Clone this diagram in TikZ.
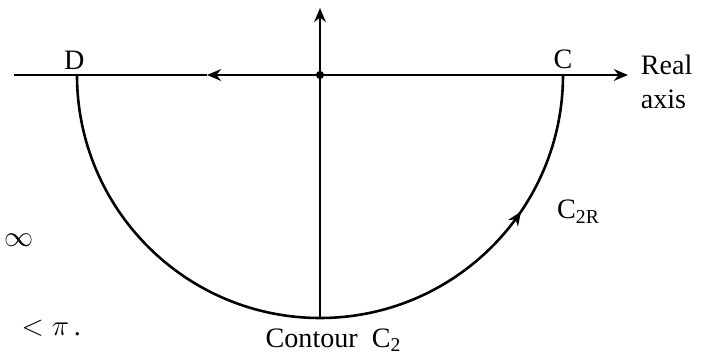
\documentclass[tikz,border=0pt]{standalone}
\usepackage{amsmath,amssymb}
\usepackage{fontspec}
\setmainfont{Liberation Serif}
\usepackage{tikz}
\usetikzlibrary{arrows.meta,positioning,decorations.markings}

\begin{document}
\begin{tikzpicture}[scale=1.0,
  axisline/.style={line width=2.4pt},
  curveline/.style={line width=2.2pt},
  tip/.style={-{Stealth[length=12pt,width=10pt]}},
  lbl/.style={font=\fontsize{24}{29}\selectfont},
  midtip/.style={decoration={markings,
      mark=at position #1 with {\arrow{Stealth[length=12pt,width=10pt]}}},
    postaction={decorate}}]
  \useasboundingbox (-9.6,-8.43) rectangle (11.64,2.25);
  % Axes, origin at the dot
  \coordinate (O) at (0,0);
  \coordinate (xL) at (-9.18,0);
  \coordinate (xM) at (-3.39,0);
  \coordinate (xR) at (9.24,0);
  \coordinate (yB) at (0,-7.29);
  \coordinate (yT) at (0,2.01);
  \coordinate (D) at (-7.29,0);
  \coordinate (C) at (7.29,0);
  \draw[axisline,tip] (O) -- (xR);
  \draw[axisline,tip] (O) -- (xM);
  \draw[axisline] (xM) -- (xL);
  \draw[curveline,tip] (yB) -- (yT);
  \fill (O) circle (3.5pt);
  % Contour C2: lower half circle from D to C
  \draw[curveline,midtip=0.81] (D) arc[start angle=180,end angle=360,radius=7.29];
  % Labels
  \node[lbl,above=0.05cm of D,xshift=-0.08cm] (labelD) {D};
  \node[lbl,above=0.05cm of C] (labelC) {C};
  \node[lbl,align=left,anchor=west] (realaxis) at (9.5,-0.2) {Real\\axis};
  \node[lbl] (labelCR) at (7.75,-4.1) {C\textsubscript{2R}};
  \node[lbl] (contour) at (0.4,-7.95) {Contour\ \ C\textsubscript{2}};
  % Text left over at the page edge
  \node[lbl] (infty) at (-9.03,-4.95) {$\infty$};
  \node[lbl,anchor=base east] (bound) at (-7.05,-7.8) {$<\pi$\,.};
\end{tikzpicture}
\end{document}
